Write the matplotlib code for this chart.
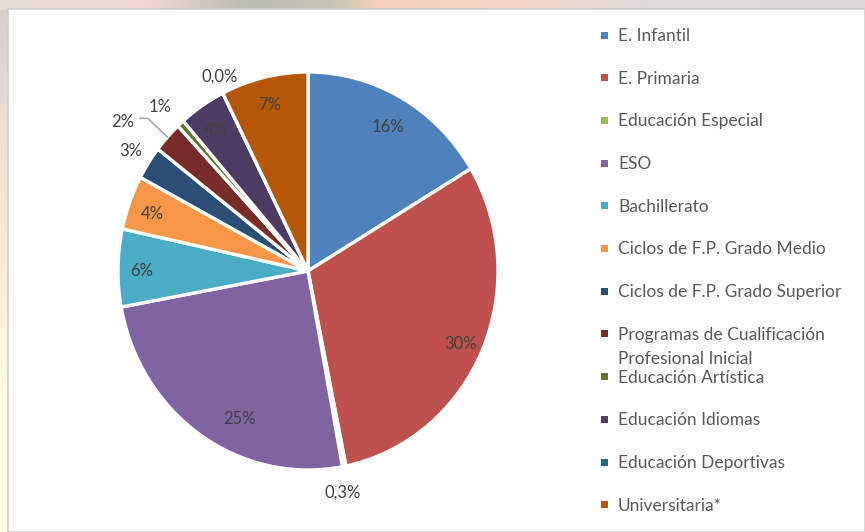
import numpy as np
import matplotlib.pyplot as plt
from matplotlib.colors import to_rgb
from matplotlib.patches import Rectangle

categorias = ['E. Infantil', 'E. Primaria', 'Educación Especial', 'ESO', 'Bachillerato',
              'Ciclos de F.P. Grado Medio', 'Ciclos de F.P. Grado Superior',
              'Programas de Cualificación\nProfesional Inicial', 'Educación Artística',
              'Educación Idiomas', 'Educación Deportivas', 'Universitaria*']
porcentajes = [16.4, 30.4, 0.3, 25.0, 6.3, 4.4, 2.7, 2.5, 0.6, 4.0, 0.0, 7.4]
etiquetas = ['16%', '30%', '0,3%', '25%', '6%', '4%', '3%', '2%', '1%', '4%', '0,0%', '7%']
colores = ['#4F81BD', '#C0504D', '#9BBB59', '#8064A2', '#4BACC6', '#F79646',
           '#2C4D75', '#772C2A', '#5F7530', '#4D3B62', '#276A7C', '#B65708']

W, H = 865, 532
plt.rcParams['font.family'] = ['Lato', 'DejaVu Sans']
fig = plt.figure(figsize=(W / 100, H / 100), dpi=100)

# fondo: franja superior y lateral difuminadas
bg = fig.add_axes([0, 0, 1, 1], zorder=0)
img = np.zeros((H, W, 3))
lado = [to_rgb(c) for c in ['#d6cdc8', '#efe0d4', '#fcebd2', '#fffbe4', '#fffde8']]
ys = np.linspace(0, H, len(lado))
for k in range(3):
    img[:, :, k] = np.interp(np.arange(H), ys, [c[k] for c in lado])[:, None]
arriba = [to_rgb(c) for c in ['#e6dcd8', '#efd7d0', '#b9bcae', '#c8c4b4', '#f6d2ba', '#f2d6c6', '#dedad8', '#dcdad9']]
xs = [0, 150, 250, 330, 380, 520, 650, 865]
for k in range(3):
    img[:10, :, k] = np.interp(np.arange(W), xs, [c[k] for c in arriba])[None, :]
bg.imshow(img, extent=[0, W, 0, H], aspect='auto')
bg.set_xlim(0, W)
bg.set_ylim(0, H)
bg.axis('off')
bg.add_patch(Rectangle((8, 0), W - 8, H - 9, facecolor='white', edgecolor='#cfcfcf', lw=1.2))

# tarta (ligeramente achatada en horizontal, como la original)
cx, cy, rx, ry = 308, 271, 190, 199
ax = fig.add_axes([0, 0, 1, 1], zorder=1)
ax.patch.set_alpha(0)
wedges, _ = ax.pie(porcentajes, colors=colores, startangle=90, counterclock=False,
                   wedgeprops=dict(edgecolor='white', linewidth=2.4))
ax.set_aspect('auto')
ax.set_xlim(-cx / rx, (W - cx) / rx)
ax.set_ylim(-(H - cy) / ry, cy / ry)
ax.axis('off')

ajustes = {0: (0.85, 0.0), 2: (1.115, -1.5), 3: (0.81, 8.3), 6: (1.12, -0.5),
           7: (1.245, 4.1), 8: (1.145, 0.8), 10: (1.097, -1.6)}
dy = -0.016
for i, (w, txt) in enumerate(zip(wedges, etiquetas)):
    r, da = ajustes.get(i, (0.875, 0.0))
    ang = np.deg2rad((w.theta1 + w.theta2) / 2 + da)
    x, y = r * np.cos(ang), r * np.sin(ang) + dy
    if i == 7:
        mid = np.deg2rad((w.theta1 + w.theta2) / 2)
        x0, y0 = np.cos(mid), np.sin(mid)
        x1, y1 = 1.14 * np.cos(mid), 1.14 * np.sin(mid)
        ax.plot([x0, x1, x1 - 0.04], [y0, y1, y1], color='#a6a6a6', lw=1.2)
        ax.text(x1 - 0.07, y1 + dy, txt, ha='right', va='center', fontsize=12, color='#404040')
    else:
        ax.text(x, y, txt, ha='center', va='center', fontsize=12, color='#404040')

# leyenda
for i, (cat, col) in enumerate(zip(categorias, colores)):
    yc = 35 + 42.7 * i
    fig.patches.append(Rectangle(((604.5 - 3.5) / W, 1 - (yc + 3.5) / H), 7 / W, 7 / H,
                                 transform=fig.transFigure, facecolor=col, edgecolor='none',
                                 zorder=3))
    for j, linea in enumerate(cat.split('\n')):
        fig.text(618 / W, 1 - (yc + 1 + 24 * j) / H, linea, ha='left', va='center',
                 fontsize=12.5, color='#595959', zorder=3)

fig.savefig('out.png', dpi=100)
